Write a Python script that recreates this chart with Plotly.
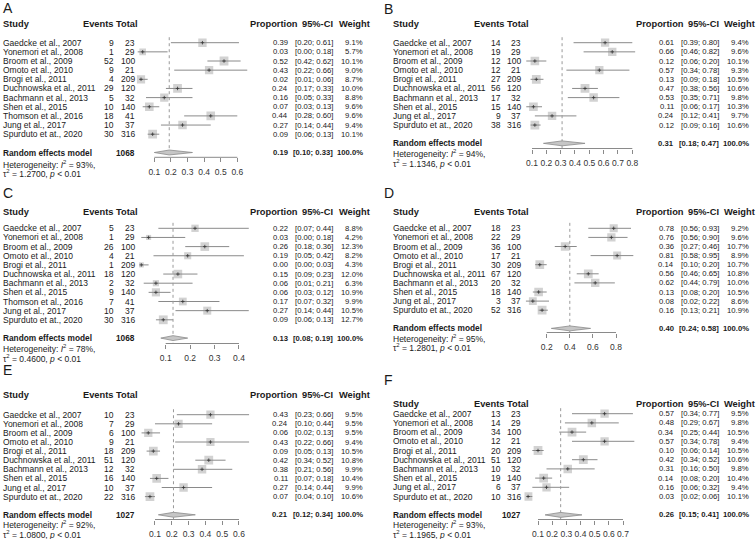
import math
import plotly.graph_objects as go

W, H = 756, 539
FONT = "Liberation Sans, Arial, Helvetica, sans-serif"
TXT = "#1a1a1a"

studies11 = ["Gaedcke et al., 2007", "Yonemori et al., 2008", "Broom et al., 2009",
             "Omoto et al., 2010", "Brogi et al., 2011", "Duchnowska et al., 2011",
             "Bachmann et al., 2013", "Shen et al., 2015", "Thomson et al., 2016",
             "Jung et al., 2017", "Spurduto et at., 2020"]
studies10 = ["Gaedcke et al., 2007", "Yonemori et al., 2008", "Broom et al., 2009",
             "Omoto et al., 2010", "Brogi et al., 2011", "Duchnowska et al., 2011",
             "Bachmann et al., 2013", "Shen et al., 2015",
             "Jung et al., 2017", "Spurduto et at., 2020"]
totals11 = [23, 29, 100, 21, 209, 120, 32, 140, 41, 37, 316]
totals10 = [23, 29, 100, 21, 209, 120, 32, 140, 37, 316]

# Panel A
a_events = [9, 1, 52, 9, 4, 29, 5, 10, 18, 10, 30]
a_prop = [0.39, 0.03, 0.52, 0.43, 0.02, 0.24, 0.16, 0.07, 0.44, 0.27, 0.09]
a_lower = [0.20, 0.00, 0.42, 0.22, 0.01, 0.17, 0.05, 0.03, 0.28, 0.14, 0.06]
a_upper = [0.61, 0.18, 0.62, 0.66, 0.06, 0.33, 0.33, 0.13, 0.60, 0.44, 0.13]
a_weight = [9.1, 5.7, 10.1, 9.0, 8.7, 10.0, 8.8, 9.6, 9.6, 9.4, 10.1]
a_pooled = [0.19, 0.10, 0.33]
a_ticks = [0.1, 0.2, 0.3, 0.4, 0.5, 0.6]

# Panel B
b_events = [14, 19, 12, 12, 27, 56, 17, 15, 9, 38]
b_prop = [0.61, 0.66, 0.12, 0.57, 0.13, 0.47, 0.53, 0.11, 0.24, 0.12]
b_lower = [0.39, 0.46, 0.06, 0.34, 0.09, 0.38, 0.35, 0.06, 0.12, 0.09]
b_upper = [0.80, 0.82, 0.20, 0.78, 0.18, 0.56, 0.71, 0.17, 0.41, 0.16]
b_weight = [9.4, 9.6, 10.1, 9.3, 10.5, 10.6, 9.8, 10.3, 9.7, 10.6]
b_pooled = [0.31, 0.18, 0.47]
b_ticks = [0.1, 0.2, 0.3, 0.4, 0.5, 0.6, 0.7, 0.8]

# Panel C
c_events = [5, 1, 26, 4, 1, 18, 2, 9, 7, 10, 30]
c_prop = [0.22, 0.03, 0.26, 0.19, 0.00, 0.15, 0.06, 0.06, 0.17, 0.27, 0.09]
c_lower = [0.07, 0.00, 0.18, 0.05, 0.00, 0.09, 0.01, 0.03, 0.07, 0.14, 0.06]
c_upper = [0.44, 0.18, 0.36, 0.42, 0.03, 0.23, 0.21, 0.12, 0.32, 0.44, 0.13]
c_weight = [8.8, 4.2, 12.3, 8.2, 4.3, 12.0, 6.3, 10.9, 9.9, 10.5, 12.7]
c_pooled = [0.13, 0.08, 0.19]
c_ticks = [0.1, 0.2, 0.3, 0.4]

# Panel D
d_events = [18, 22, 36, 17, 30, 67, 20, 18, 3, 52]
d_prop = [0.78, 0.76, 0.36, 0.81, 0.14, 0.56, 0.62, 0.13, 0.08, 0.16]
d_lower = [0.56, 0.56, 0.27, 0.58, 0.10, 0.46, 0.44, 0.08, 0.02, 0.13]
d_upper = [0.93, 0.90, 0.46, 0.95, 0.20, 0.65, 0.79, 0.20, 0.22, 0.21]
d_weight = [9.2, 9.6, 10.7, 8.9, 10.7, 10.8, 10.0, 10.5, 8.6, 10.9]
d_pooled = [0.40, 0.24, 0.58]
d_ticks = [0.2, 0.4, 0.6, 0.8]

# Panel E
e_events = [10, 7, 6, 9, 18, 51, 12, 16, 10, 22]
e_prop = [0.43, 0.24, 0.06, 0.43, 0.09, 0.42, 0.38, 0.11, 0.27, 0.07]
e_lower = [0.23, 0.10, 0.02, 0.22, 0.05, 0.34, 0.21, 0.07, 0.14, 0.04]
e_upper = [0.66, 0.44, 0.13, 0.66, 0.13, 0.52, 0.56, 0.18, 0.44, 0.10]
e_weight = [9.5, 9.5, 9.5, 9.4, 10.5, 10.8, 9.9, 10.4, 9.9, 10.6]
e_pooled = [0.21, 0.12, 0.34]
e_ticks = [0.1, 0.2, 0.3, 0.4, 0.5, 0.6]

# Panel F
f_events = [13, 14, 34, 12, 20, 51, 10, 19, 6, 10]
f_prop = [0.57, 0.48, 0.34, 0.57, 0.10, 0.42, 0.31, 0.14, 0.16, 0.03]
f_lower = [0.34, 0.29, 0.25, 0.34, 0.06, 0.34, 0.16, 0.08, 0.06, 0.02]
f_upper = [0.77, 0.67, 0.44, 0.78, 0.14, 0.52, 0.50, 0.20, 0.32, 0.06]
f_weight = [9.5, 9.8, 10.5, 9.4, 10.5, 10.6, 9.8, 10.4, 9.4, 10.1]
f_pooled = [0.26, 0.15, 0.41]
f_ticks = [0.1, 0.2, 0.3, 0.4, 0.5, 0.6, 0.7]

panel_labels = ["A", "B", "C", "D", "E", "F"]
panel_totals = ["1068", "", "1068", "", "1027", "1027"]
panel_i2 = ["93%", "94%", "78%", "95%", "92%", "93%"]
panel_tau2 = ["1.2700", "1.1346", "0.4600", "1.2801", "1.0800", "1.1965"]

data = [
    (studies11, a_events, totals11, a_prop, a_lower, a_upper, a_weight, a_pooled, a_ticks),
    (studies10, b_events, totals10, b_prop, b_lower, b_upper, b_weight, b_pooled, b_ticks),
    (studies11, c_events, totals11, c_prop, c_lower, c_upper, c_weight, c_pooled, c_ticks),
    (studies10, d_events, totals10, d_prop, d_lower, d_upper, d_weight, d_pooled, d_ticks),
    (studies10, e_events, totals10, e_prop, e_lower, e_upper, e_weight, e_pooled, e_ticks),
    (studies10, f_events, totals10, f_prop, f_lower, f_upper, f_weight, f_pooled, f_ticks),
]

# ---- layout geometry (pixels) ----
LEFT = dict(letter_x=2, name_x=2, events_r=115, total_r=135.5, prop_r=289, ci_r=334.3,
            weight_r=364.3, h_study_l=2, h_et_r=138.5, h_prop_r=298.5, h_ci_r=334,
            h_weight_r=370.5)
RIGHT = dict(letter_x=383, name_x=392, events_r=502, total_r=522, prop_r=675, ci_r=720.3,
             weight_r=750.3, h_study_l=392, h_et_r=529.5, h_prop_r=684.5, h_ci_r=720,
             h_weight_r=756)

geom = [
    dict(cols=LEFT, top=0, bottom=182, letter_y=8, header_y=24, first=42.7, sp=9.15,
         axis_y=157.3, het_y=164.7, tau_y=173.7, cal=(0.1, 154.3, 0.6, 237.3)),
    dict(cols=RIGHT, top=0, bottom=182, letter_y=9, header_y=24, first=42.7, sp=9.15,
         axis_y=148.5, het_y=153.5, tau_y=163.3, cal=(0.1, 532.0, 0.8, 632.3)),
    dict(cols=LEFT, top=182, bottom=362, letter_y=193.3, header_y=211.7, first=228.3, sp=9.15,
         axis_y=343.5, het_y=348.8, tau_y=358.0, cal=(0.1, 165.7, 0.4, 239.0)),
    dict(cols=RIGHT, top=182, bottom=362, letter_y=193.3, header_y=211.7, first=228.3, sp=9.1,
         axis_y=332.5, het_y=338.0, tau_y=347.0, cal=(0.2, 546.7, 0.8, 616.0)),
    dict(cols=LEFT, top=362, bottom=539, letter_y=370, header_y=395, first=414.7, sp=9.1,
         axis_y=519.5, het_y=524.3, tau_y=534.0, cal=(0.1, 155.0, 0.6, 239.0)),
    dict(cols=RIGHT, top=362, bottom=539, letter_y=380, header_y=404, first=413.7, sp=9.2,
         axis_y=519.5, het_y=524.3, tau_y=534.0, cal=(0.1, 538.0, 0.7, 623.0)),
]

SQ = "#bfbfbf"
LN = "#8a8a8a"
NUMF = 7.7
fig = go.Figure()
annotations = []
layout_axes = {}


def px2paper_y(py):
    return 1 - py / H


for k in range(6):
    studies, events, totals, prop, lower, upper, weight, pooled, ticks = data[k]
    g = geom[k]
    cols = g["cols"]
    xa = "x" if k == 0 else f"x{k + 1}"
    ya = "y" if k == 0 else f"y{k + 1}"
    n = len(studies)
    rows = list(range(n))
    re_row = n + 1

    def row_of(py, g=g):
        return (py - g["first"]) / g["sp"]

    # x calibration
    t_a, px_a, t_b, px_b = g["cal"]
    scale = (px_b - px_a) / (t_b - t_a)
    lo = min(min(lower), ticks[0])
    hi = max(max(upper), ticks[-1])
    pad = 0.02 * (hi - lo)
    r0, r1 = lo - pad, hi + pad
    d0 = (px_a + (r0 - t_a) * scale) / W
    d1 = (px_a + (r1 - t_a) * scale) / W

    layout_axes["xaxis" if k == 0 else f"xaxis{k + 1}"] = dict(
        domain=[d0, d1], range=[r0, r1], anchor="free", position=px2paper_y(g["axis_y"]),
        tickvals=ticks, ticktext=[f"{t:g}" for t in ticks], ticks="outside", ticklen=4,
        tickwidth=1, tickcolor=LN, showline=False, showgrid=False, zeroline=False,
        tickfont=dict(family=FONT, size=8.5, color="#333333"), ticklabelstandoff=2,
        fixedrange=True)
    layout_axes["yaxis" if k == 0 else f"yaxis{k + 1}"] = dict(
        domain=[px2paper_y(g["bottom"]), px2paper_y(g["top"])],
        range=[row_of(g["bottom"]), row_of(g["top"])], visible=False, anchor=xa,
        fixedrange=True)

    wmax = max(weight)
    # squares
    fig.add_trace(go.Scatter(
        x=prop, y=rows, mode="markers", xaxis=xa, yaxis=ya, showlegend=False,
        marker=dict(symbol="square", size=[8.8 * math.sqrt(w / wmax) for w in weight],
                    color=SQ, line=dict(width=0))))
    # CI lines
    cx, cy = [], []
    for i in rows:
        cx += [lower[i], upper[i], None]
        cy += [i, i, None]
    fig.add_trace(go.Scatter(x=cx, y=cy, mode="lines", xaxis=xa, yaxis=ya, showlegend=False,
                             line=dict(color=LN, width=1)))
    # centre marks
    fig.add_trace(go.Scatter(
        x=prop, y=rows, mode="markers", xaxis=xa, yaxis=ya, showlegend=False,
        marker=dict(symbol="cross-thin", size=2.5, line=dict(color="#333333", width=0.8))))
    # dotted pooled line
    fig.add_trace(go.Scatter(
        x=[pooled[0], pooled[0]], y=[-0.6, row_of(g["axis_y"])], mode="lines",
        xaxis=xa, yaxis=ya, showlegend=False,
        line=dict(color="#9a9a9a", width=1, dash="dot")))
    # diamond
    h = 0.27
    fig.add_trace(go.Scatter(
        x=[pooled[1], pooled[0], pooled[2], pooled[0], pooled[1]],
        y=[re_row, re_row - h, re_row, re_row + h, re_row], mode="lines", fill="toself",
        fillcolor="#c6c6c6", xaxis=xa, yaxis=ya, showlegend=False,
        line=dict(color="#8a8a8a", width=0.8)))
    # axis line
    fig.add_trace(go.Scatter(
        x=[ticks[0], ticks[-1]], y=[row_of(g["axis_y"])] * 2, mode="lines",
        xaxis=xa, yaxis=ya, showlegend=False, line=dict(color=LN, width=1)))

    def ann(text, xpx, yrow, anchor, size=8.5, bold=False):
        annotations.append(dict(
            text=f"<b>{text}</b>" if bold else text, x=xpx / W, xref="paper", y=yrow, yref=ya,
            xanchor=anchor, yanchor="middle", showarrow=False, borderpad=0,
            font=dict(family=FONT, size=size, color=TXT)))

    # panel letter
    ann(panel_labels[k], cols["letter_x"], row_of(g["letter_y"]), "left", size=14)
    # headers
    hy = row_of(g["header_y"])
    ann("Study", cols["h_study_l"], hy, "left", 9.3, True)
    ann("Events Total", cols["h_et_r"], hy, "right", 9.3, True)
    ann("Proportion", cols["h_prop_r"], hy, "right", 9.3, True)
    ann("95%-CI", cols["h_ci_r"], hy, "right", 9.3, True)
    ann("Weight", cols["h_weight_r"], hy, "right", 9.3, True)
    # rows
    for i in rows:
        ann(studies[i], cols["name_x"], i, "left")
        ann(str(events[i]), cols["events_r"], i, "right")
        ann(str(totals[i]), cols["total_r"], i, "right")
        ann(f"{prop[i]:.2f}", cols["prop_r"], i, "right", NUMF)
        ann(f"[{lower[i]:.2f}; {upper[i]:.2f}]", cols["ci_r"], i, "right", NUMF)
        ann(f"{weight[i]:.1f}%", cols["weight_r"], i, "right", NUMF)
    # summary
    ann("Random effects model", cols["name_x"], re_row, "left", 8.3, True)
    if panel_totals[k]:
        ann(panel_totals[k], cols["total_r"], re_row, "right", 8.3, True)
    ann(f"{pooled[0]:.2f}", cols["prop_r"], re_row, "right", NUMF, True)
    ann(f"[{pooled[1]:.2f}; {pooled[2]:.2f}]", cols["ci_r"], re_row, "right", NUMF, True)
    ann("100.0%", cols["weight_r"], re_row, "right", NUMF, True)
    ann(f"Heterogeneity: <i>I</i><sup>2</sup> = {panel_i2[k]},", cols["name_x"],
        row_of(g["het_y"]), "left")
    ann(f"τ<sup>2</sup> = {panel_tau2[k]}, <i>p</i> &lt; 0.01", cols["name_x"],
        row_of(g["tau_y"]), "left")

fig.update_layout(
    width=W, height=H, autosize=False, margin=dict(l=0, r=0, t=0, b=0),
    paper_bgcolor="white", plot_bgcolor="white", showlegend=False,
    annotations=annotations, **layout_axes)

fig.write_html("out.html", config={"displayModeBar": False, "staticPlot": True},
               post_script="document.body.style.margin='0px';document.body.style.overflow='hidden';")
